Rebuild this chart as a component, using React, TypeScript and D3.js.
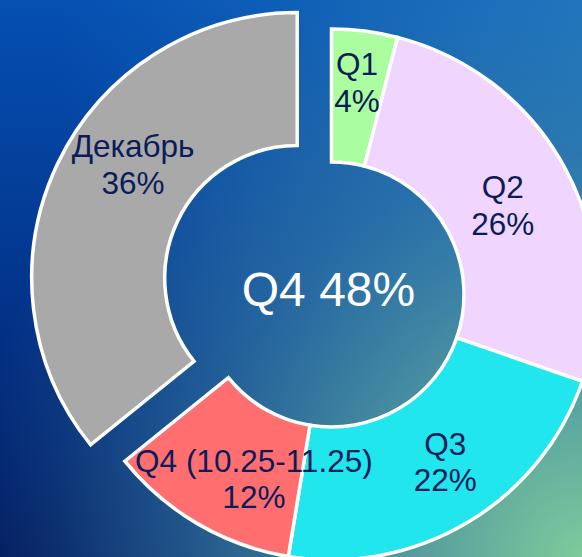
import React from 'react';
import * as d3 from 'd3';

const categories = ['Q1', 'Q2', 'Q3', 'Q4 (10.25-11.25)', 'Декабрь'];
const values = [4, 26.3, 22.3, 11.6, 35.8];
const colors = ['#abfea0', '#f0d6fe', '#22e6ee', '#ff6f70', '#a9a9a9'];
const centerLabel = 'Q4 48%';

const W = 582;
const H = 557;

export default function App() {
  const cx = 331.5;
  const cy = 294.5;
  const rIn = 132.5;
  const rOut = 265.5;
  const total = d3.sum(values);
  const pie = d3.pie<number>().sort(null).value((d) => d)(values);
  const arc = d3.arc<d3.PieArcDatum<number>>().innerRadius(rIn).outerRadius(rOut);
  const explode: Record<string, number> = { 'Декабрь': 38 };
  const nudge: Record<string, [number, number]> = {
    'Q1': [0.6, -13.6],
    'Q2': [-4, 6],
    'Q3': [12, -2.5],
    'Q4 (10.25-11.25)': [22.6, 13.5],
    'Декабрь': [15.4, -27],
  };
  const labelSize = 31.5;
  const lineGap = 36.5;

  return (
    <div style={{ position: 'fixed', left: 0, top: 0, width: W, height: H }}>
      <svg width={W} height={H} style={{ display: 'block' }}>
        <defs>
          <linearGradient id="bgBase" x1="0" y1="0" x2="0" y2="1">
            <stop offset="0" stopColor="#0550b2" />
            <stop offset="0.5" stopColor="#03368e" />
            <stop offset="1" stopColor="#00185e" />
          </linearGradient>
          <linearGradient id="bgH" x1="0" y1="0" x2="1" y2="0">
            <stop offset="0.1" stopColor="#2a8ac8" stopOpacity="0" />
            <stop offset="1" stopColor="#2a8ac8" stopOpacity="0.6" />
          </linearGradient>
          <radialGradient id="bgGlow" gradientUnits="userSpaceOnUse" cx={W} cy={H} r={620}>
            <stop offset="0" stopColor="#7fcb9b" stopOpacity="1" />
            <stop offset="0.35" stopColor="#5aa3a2" stopOpacity="0.8" />
            <stop offset="0.65" stopColor="#3f86a8" stopOpacity="0.45" />
            <stop offset="1" stopColor="#3f86a8" stopOpacity="0" />
          </radialGradient>
        </defs>
        <rect x={0} y={0} width={W} height={H} fill="url(#bgBase)" />
        <rect x={0} y={0} width={W} height={H} fill="url(#bgH)" />
        <rect x={0} y={0} width={W} height={H} fill="url(#bgGlow)" />
        <g transform={`translate(${cx},${cy})`}>
          {pie.map((p, i) => {
            const name = categories[i];
            const mid = (p.startAngle + p.endAngle) / 2;
            const d = explode[name] || 0;
            const ox = d * Math.sin(mid);
            const oy = -d * Math.cos(mid);
            return (
              <path
                key={name}
                d={arc(p) || ''}
                transform={`translate(${ox},${oy})`}
                fill={colors[i]}
                stroke="#ffffff"
                strokeWidth={3.5}
                strokeLinejoin="miter"
              />
            );
          })}
          {pie.map((p, i) => {
            const name = categories[i];
            const mid = (p.startAngle + p.endAngle) / 2;
            const d = explode[name] || 0;
            const ox = d * Math.sin(mid);
            const oy = -d * Math.cos(mid);
            const [cxl, cyl] = arc.centroid(p);
            const [nx, ny] = nudge[name] || [0, 0];
            const x = cxl + ox + nx;
            const y = cyl + oy + ny;
            const pct = Math.round((values[i] / total) * 100) + '%';
            return (
              <text
                key={'l' + name}
                x={x}
                y={y - 8}
                textAnchor="middle"
                fill="#0b1c58"
                fontFamily="Arial, 'Liberation Sans', sans-serif"
                fontSize={labelSize}
              >
                <tspan x={x} y={y - 8}>{name}</tspan>
                <tspan x={x} y={y - 8 + lineGap}>{pct}</tspan>
              </text>
            );
          })}
          <text
            x={-3}
            y={11}
            textAnchor="middle"
            fill="#ffffff"
            fontFamily="Arial, 'Liberation Sans', sans-serif"
            fontSize={48}
          >
            {centerLabel}
          </text>
        </g>
      </svg>
    </div>
  );
}
